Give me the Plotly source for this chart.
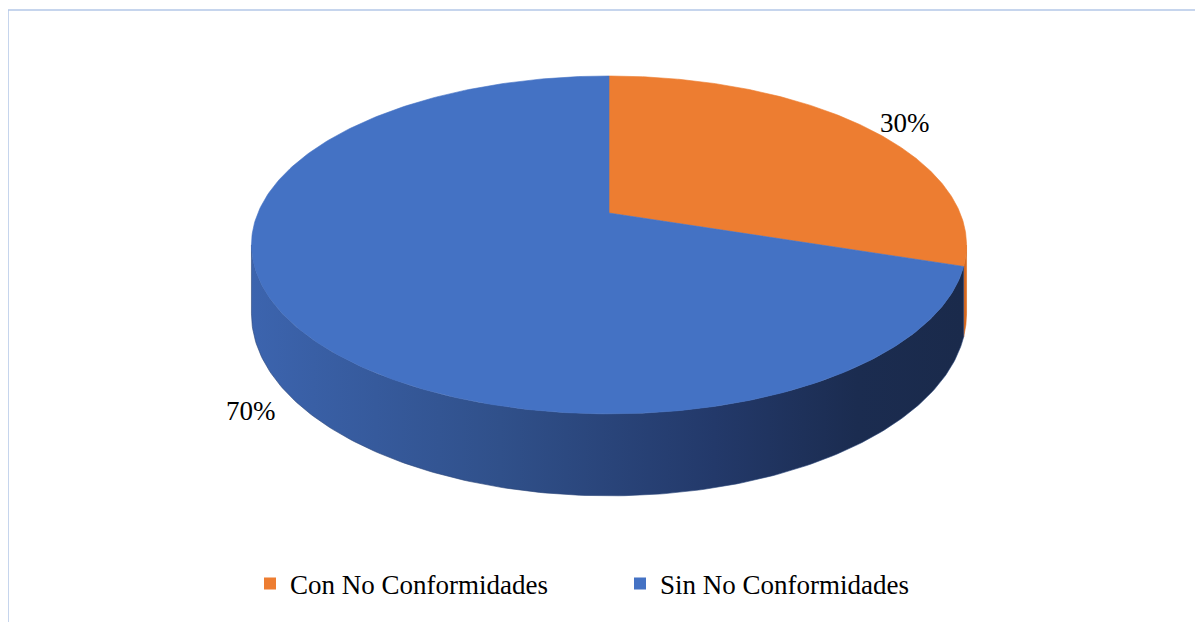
import numpy as np
import plotly.graph_objects as go

# ---- data ----
categories = ["Con No Conformidades", "Sin No Conformidades"]
values = [30, 70]
label_texts = ["30%", "70%"]
colors = ["#ED7D31", "#4472C4"]
side_colors = ["#D9691F", None]

SERIF = "Times New Roman, Liberation Serif, serif"

# ---- 3D pie geometry (screen pixel space, perspective tilt) ----
CX, CY = 609.0, 213.0      # projected pie centre
A, B = 351.1, 162.9        # horizontal / vertical radius factors
K = 0.189                  # perspective factor
D = 66.5                   # depth of the pie side
OFF = 8                    # page body margin


def proj(theta_deg, r=1.0):
    t = np.radians(theta_deg)
    u = r * np.sin(t)
    v = -r * np.cos(t)
    w = 1 - K * v
    return CX + A * u / w, CY + B * v / w, w


total = float(sum(values))
theta_R = np.degrees(np.arccos(-K))          # right silhouette
theta_L = 360 - theta_R                       # left silhouette

fig = go.Figure()

start = 0.0
slices = []
for cat, val, col in zip(categories, values, colors):
    end = start + 360.0 * val / total
    slices.append((cat, start, end, col))
    start = end

# side walls
for i, (cat, th0, th1, col) in enumerate(slices):
    a, b = max(th0, theta_R), min(th1, theta_L)
    if b <= a:
        continue
    th = np.linspace(a, b, 200)
    xt, yt, wt = proj(th)
    xb, yb = xt, yt + D / wt
    xs = np.concatenate([xt, xb[::-1], xt[:1]])
    ys = np.concatenate([yt, yb[::-1], yt[:1]])
    if side_colors[i] is None:
        fig.add_trace(go.Scatter(
            x=xs, y=ys, mode="lines", fill="toself",
            line=dict(width=0.6, color="#2A4478"),
            fillgradient=dict(type="horizontal", colorscale=[
                [0.0, "#3C64AE"], [0.35, "#30508A"], [0.65, "#23396A"],
                [0.85, "#1B2C50"], [1.0, "#1A2A4B"]]),
            hoverinfo="skip", showlegend=False))
    else:
        fig.add_trace(go.Scatter(
            x=xs, y=ys, mode="lines", fill="toself",
            line=dict(width=0.6, color=side_colors[i]),
            fillcolor=side_colors[i], hoverinfo="skip", showlegend=False))

# top faces
for cat, th0, th1, col in slices:
    th = np.linspace(th0, th1, 300)
    xt, yt, _ = proj(th)
    xs = np.concatenate([[CX], xt, [CX]])
    ys = np.concatenate([[CY], yt, [CY]])
    fig.add_trace(go.Scatter(
        x=xs, y=ys, mode="lines", fill="toself",
        line=dict(width=0.6, color=col), fillcolor=col,
        name=cat, hoverinfo="skip", showlegend=False))

# legend entries
for cat, col in zip(categories, colors):
    fig.add_trace(go.Scatter(
        x=[None], y=[None], mode="markers", name=cat,
        marker=dict(symbol="square", size=17, color=col)))

# data labels
label_shifts = [(13, -5), (5, 0)]
for (cat, th0, th1, col), txt, (dx, dy) in zip(slices, label_texts, label_shifts):
    mid = (th0 + th1) / 2
    x, y, w = proj(mid, 1.12)
    if -np.cos(np.radians(mid)) > 0:
        y = y + D / w
    fig.add_annotation(x=x, y=y, text=txt, showarrow=False,
                       xanchor="center", yanchor="middle", xshift=dx, yshift=dy,
                       font=dict(family=SERIF, size=27, color="#000000"))

# chart area border
fig.add_shape(type="rect", xref="x", yref="y", x0=8, y0=10, x1=1230, y1=650,
              line=dict(color="#B4C7E7", width=1.5), layer="below")

W, H = 1203, 622
fig.update_layout(
    width=W, height=H,
    margin=dict(l=0, r=0, t=0, b=0),
    paper_bgcolor="white", plot_bgcolor="white",
    xaxis=dict(range=[OFF, OFF + W], visible=False, fixedrange=True),
    yaxis=dict(range=[OFF + H, OFF], visible=False, fixedrange=True),
    showlegend=True,
    legend=dict(orientation="h", x=(250 - OFF) / W, y=1 - (584 - OFF) / H,
                xanchor="left", yanchor="middle",
                font=dict(family=SERIF, size=27, color="#000000"),
                entrywidth=325, entrywidthmode="pixels",
                itemsizing="constant", bgcolor="rgba(0,0,0,0)"),
)

fig.write_html("out.html")
